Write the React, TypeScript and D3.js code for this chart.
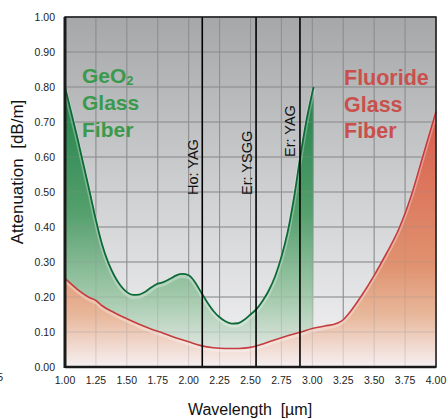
import React from "react";
import * as d3 from "d3";

const xTicks = [1.0, 1.25, 1.5, 1.75, 2.0, 2.25, 2.5, 2.75, 3.0, 3.25, 3.5, 3.75, 4.0];
const yTicks = [0, 0.1, 0.2, 0.3, 0.4, 0.5, 0.6, 0.7, 0.8, 0.9, 1.0];

const geoWave = [1.0, 1.1, 1.2, 1.25, 1.3, 1.35, 1.4, 1.45, 1.5, 1.55, 1.6, 1.65, 1.7, 1.75, 1.8, 1.85, 1.9, 1.95, 2.0, 2.05, 2.1, 2.15, 2.2, 2.25, 2.3, 2.35, 2.4, 2.45, 2.5, 2.55, 2.6, 2.65, 2.7, 2.75, 2.8, 2.85, 2.9, 2.95, 3.01];
const geoAtt = [0.8, 0.655, 0.5, 0.42, 0.35, 0.298, 0.26, 0.232, 0.214, 0.206, 0.207, 0.215, 0.228, 0.238, 0.243, 0.252, 0.262, 0.266, 0.262, 0.243, 0.214, 0.185, 0.16, 0.142, 0.13, 0.124, 0.125, 0.135, 0.15, 0.166, 0.19, 0.22, 0.26, 0.315, 0.385, 0.48, 0.595, 0.7, 0.8];

const fluWave = [1.0, 1.1, 1.2, 1.25, 1.3, 1.4, 1.5, 1.6, 1.7, 1.8, 1.9, 2.0, 2.1, 2.2, 2.3, 2.4, 2.5, 2.6, 2.7, 2.8, 2.9, 3.0, 3.1, 3.2, 3.25, 3.3, 3.4, 3.5, 3.6, 3.7, 3.8, 3.9, 4.0];
const fluAtt = [0.253, 0.222, 0.198, 0.19, 0.175, 0.155, 0.138, 0.122, 0.108, 0.096, 0.083, 0.072, 0.061, 0.055, 0.053, 0.053, 0.056, 0.066, 0.078, 0.089, 0.099, 0.11, 0.117, 0.125, 0.135, 0.155, 0.205, 0.262, 0.325, 0.395, 0.49, 0.61, 0.73];

const laserNames = ["Ho: YAG", "Er: YSGG", "Er: YAG"];
const laserWave = [2.11, 2.545, 2.9];
const laserLabelBottom = [195, 195, 157];

const geoLabel = ["GeO", "Glass", "Fiber"];
const fluLabel = ["Fluoride", "Glass", "Fiber"];

export default function App() {
  const W = 448, H = 419;
  const left = 65, right = 436, top = 17, bottom = 367;
  const x = d3.scaleLinear().domain([1, 4]).range([left, right]);
  const y = d3.scaleLinear().domain([0, 1]).range([bottom, top]);

  const geo = geoWave.map((w, i) => [w, geoAtt[i]] as [number, number]);
  const flu = fluWave.map((w, i) => [w, fluAtt[i]] as [number, number]);

  const line = d3.line<[number, number]>().x(d => x(d[0])).y(d => y(d[1])).curve(d3.curveMonotoneX);
  const area = d3.area<[number, number]>().x(d => x(d[0])).y0(y(0)).y1(d => y(d[1])).curve(d3.curveMonotoneX);

  const font = "'Liberation Sans', Arial, sans-serif";

  const grid = (op: number) => (
    <g stroke="#8e8f91" strokeWidth={1} opacity={op}>
      {xTicks.map(t => <line key={"gx" + t} x1={x(t)} x2={x(t)} y1={top} y2={bottom} />)}
      {yTicks.map(t => <line key={"gy" + t} x1={left} x2={right} y1={y(t)} y2={y(t)} />)}
    </g>
  );

  return (
    <svg width={W} height={H} style={{ position: "absolute", left: 0, top: 0 }}>
      <defs>
        <linearGradient id="bg" gradientUnits="userSpaceOnUse" x1={0} y1={top} x2={0} y2={bottom}>
          <stop offset="0" stopColor="#a6a7a9" />
          <stop offset="0.5" stopColor="#cfd0d2" />
          <stop offset="1" stopColor="#f3f3f4" />
        </linearGradient>
        <linearGradient id="gfill" gradientUnits="userSpaceOnUse" x1={0} y1={y(0.8)} x2={0} y2={bottom}>
          <stop offset="0" stopColor="#1f7f48" />
          <stop offset="0.45" stopColor="#55a06d" />
          <stop offset="0.75" stopColor="#a3caac" />
          <stop offset="1" stopColor="#f2eef0" />
        </linearGradient>
        <linearGradient id="rfill" gradientUnits="userSpaceOnUse" x1={0} y1={y(0.73)} x2={0} y2={bottom}>
          <stop offset="0" stopColor="#d85c4c" />
          <stop offset="0.6" stopColor="#e0926f" />
          <stop offset="0.8" stopColor="#e8b89c" />
          <stop offset="1" stopColor="#f6f0f2" />
        </linearGradient>
      </defs>

      <rect x={left} y={top} width={right - left} height={bottom - top} fill="url(#bg)" />
      {grid(1)}

      <path d={area(geo) || ""} fill="url(#gfill)" />
      <path d={area(flu) || ""} fill="url(#rfill)" />
      {grid(0.3)}

      <path d={line(geo) || ""} fill="none" stroke="#ffffff" strokeOpacity={0.3} strokeWidth={4} transform="translate(0,2)" />
      <path d={line(flu) || ""} fill="none" stroke="#ffffff" strokeOpacity={0.3} strokeWidth={3.5} transform="translate(0,2)" />
      <path d={line(geo) || ""} fill="none" stroke="#0d6a38" strokeWidth={1.8} />
      <path d={line(flu) || ""} fill="none" stroke="#c43c40" strokeWidth={1.6} />

      {laserWave.map((w, i) => (
        <g key={"las" + i}>
          <line x1={x(w)} x2={x(w)} y1={top} y2={bottom} stroke="#000" strokeWidth={1.6} />
          <text transform={`translate(${x(w) - 4.5},${laserLabelBottom[i]}) rotate(-90)`} textAnchor="start" fontFamily={font} fontSize={14.5} fill="#111">{laserNames[i]}</text>
        </g>
      ))}

      <rect x={left} y={top} width={right - left} height={bottom - top} fill="none" stroke="#1a1a1a" strokeWidth={1.5} />
      <line x1={left} x2={left} y1={top} y2={bottom + 1} stroke="#1a1a1a" strokeWidth={3} />
      <line x1={left} x2={right} y1={bottom} y2={bottom} stroke="#1a1a1a" strokeWidth={2.5} />

      {geoLabel.map((t, i) => (
        <text key={"gl" + i} x={82} y={83 + i * 27.2} fontFamily={font} fontWeight="bold" fontSize={21} fill="#3a9a4c">
          {t}
          {i === 0 ? <tspan fontSize={13} dy={2}>2</tspan> : null}
        </text>
      ))}
      {fluLabel.map((t, i) => (
        <text key={"fl" + i} x={344} y={85 + i * 26.6} fontFamily={font} fontWeight="bold" fontSize={21.5} fill="#c9504c">{t}</text>
      ))}

      {yTicks.map(t => (
        <text key={"yt" + t} x={55} y={y(t) + 4} textAnchor="end" fontFamily={font} fontSize={10.5} fill="#222">{t.toFixed(2)}</text>
      ))}
      {xTicks.map(t => (
        <text key={"xt" + t} x={x(t)} y={384} textAnchor="middle" fontFamily={font} fontSize={10.5} fill="#222">{t.toFixed(2)}</text>
      ))}
      <text x={3} y={381} textAnchor="end" fontFamily={font} fontSize={10.5} fill="#222">0.5</text>

      <text x={250} y={415} textAnchor="middle" fontFamily={font} fontSize={16} fill="#111" style={{ whiteSpace: "pre" }}>{"Wavelength  [µm]"}</text>
      <text transform="translate(23,172) rotate(-90)" textAnchor="middle" fontFamily={font} fontSize={17} fill="#111" style={{ whiteSpace: "pre" }}>{"Attenuation  [dB/m]"}</text>
    </svg>
  );
}
